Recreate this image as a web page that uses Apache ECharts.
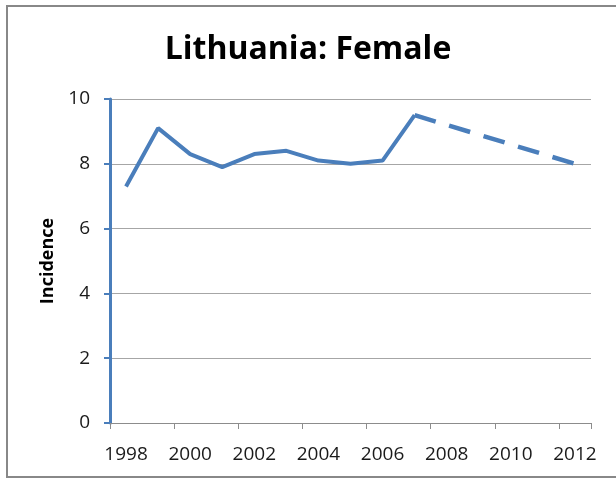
<!DOCTYPE html>
<html>
<head>
<meta charset="utf-8">
<script src="https://cdn.jsdelivr.net/npm/echarts@6/dist/echarts.min.js"></script>
<style>
  html, body { margin: 0; padding: 0; background: #fff; }
  #frame {
    position: absolute; left: 6px; top: 5px; width: 616px; height: 473px;
    border: 2px solid #888; box-sizing: border-box;
  }
  #chart { position: absolute; left: 0; top: 0; width: 616px; height: 479px; }
</style>
</head>
<body>
<div id="frame"></div>
<div id="chart"></div>
<script>
// chart data
const years = ['1998', '1999', '2000', '2001', '2002', '2003', '2004', '2005',
  '2006', '2007', '2008', '2009', '2010', '2011', '2012'];
const observed = [7.3, 9.1, 8.3, 7.9, 8.3, 8.4, 8.1, 8.0, 8.1, 9.5,
  null, null, null, null, null];
const projected = [null, null, null, null, null, null, null, null, null, 9.5,
  null, null, null, null, 8.0];

const blue = '#4a7ebb';
const font = '"Open Sans", sans-serif';

const chart = echarts.init(document.getElementById('chart'));

chart.setOption({
  animation: false,
  title: {
    text: 'Lithuania: Female',
    left: 'center',
    top: 29,
    textStyle: { fontFamily: font, fontWeight: 'bold', fontSize: 32, color: '#000' }
  },
  grid: { left: 110, right: 25, top: 99, bottom: 56 },
  xAxis: {
    type: 'category',
    data: years,
    boundaryGap: true,
    axisLine: { lineStyle: { color: '#8c8c8c', width: 1 } },
    axisTick: { show: true, length: 6, lineStyle: { color: '#8c8c8c' } },
    axisLabel: {
      interval: 1,
      margin: 22,
      fontFamily: font,
      fontSize: 19,
      color: '#1a1a1a'
    }
  },
  yAxis: {
    type: 'value',
    min: 0,
    max: 10,
    interval: 2,
    name: 'Incidence',
    nameLocation: 'middle',
    nameGap: 50,
    nameTextStyle: { fontFamily: font, fontWeight: 'bold', fontSize: 18, color: '#000' },
    axisLine: { show: true, lineStyle: { color: blue, width: 3 } },
    axisTick: { show: true, length: 6, lineStyle: { color: blue, width: 2 } },
    axisLabel: { margin: 20, fontFamily: font, fontSize: 19, color: '#1a1a1a' },
    splitLine: { lineStyle: { color: '#a6a6a6', width: 1 } }
  },
  series: [
    {
      name: 'Observed',
      type: 'line',
      data: observed,
      symbol: 'none',
      lineStyle: { color: blue, width: 4 },
      z: 3
    },
    {
      name: 'Projected',
      type: 'line',
      data: projected,
      connectNulls: true,
      symbol: 'none',
      lineStyle: { color: blue, width: 4.5, type: [22, 14] },
      z: 2
    }
  ]
});
</script>
</body>
</html>
